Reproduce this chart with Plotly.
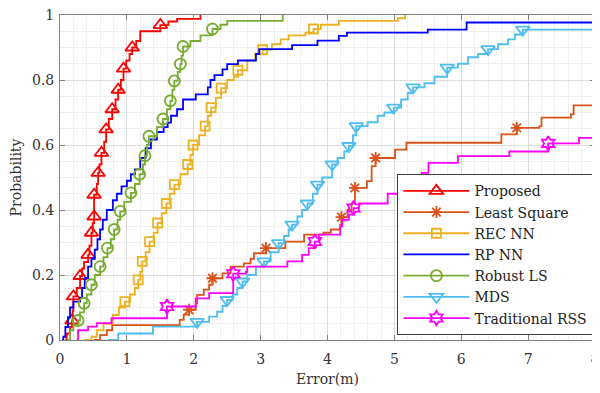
import plotly.graph_objects as go

# ---------------- data ----------------
series_names = ["Proposed", "Least Square", "REC NN", "RP NN", "Robust LS", "MDS", "Traditional RSS"]

proposed_x = [0.08, 0.1, 0.15, 0.18, 0.19, 0.2, 0.2, 0.25, 0.30, 0.33, 0.36, 0.42, 0.44, 0.47, 0.49, 0.51, 0.51, 0.51,
              0.55, 0.57, 0.59, 0.62, 0.66, 0.69, 0.73, 0.78, 0.83, 0.87, 0.91, 0.95, 0.99, 1.04, 1.08, 1.14, 1.2,
              1.5, 1.62, 1.75, 2.1]
proposed_y = [0.0, 0.02, 0.04, 0.06, 0.09, 0.11, 0.134, 0.16, 0.197, 0.22, 0.24, 0.262, 0.29, 0.33, 0.36, 0.38, 0.41,
              0.447, 0.48, 0.514, 0.54, 0.576, 0.61, 0.648, 0.68, 0.71, 0.74, 0.77, 0.80, 0.835, 0.86, 0.88, 0.90,
              0.92, 0.95, 0.969, 0.98, 0.988, 1.0]
proposed_mk = [3, 6, 8, 11, 13, 15, 17, 19, 21, 23, 25, 27, 29, 32, 35]

ls_x = [0.5, 0.6, 0.7, 0.78, 1.79, 1.85, 1.93, 2.03, 2.05, 2.15, 2.23, 2.28, 2.43, 2.55, 2.75, 2.85, 2.9, 3.08, 3.37,
        3.65, 3.94, 4.05, 4.19, 4.21, 4.3, 4.36, 4.41, 4.59, 4.66, 4.72, 5.01, 5.18, 6.6, 6.83, 7.17, 7.2, 7.64,
        7.68, 8.0]
ls_y = [0.0, 0.015, 0.03, 0.046, 0.062, 0.078, 0.093, 0.113, 0.139, 0.155, 0.17, 0.19, 0.205, 0.226, 0.236, 0.25,
        0.267, 0.283, 0.303, 0.324, 0.33, 0.34, 0.355, 0.378, 0.40, 0.42, 0.468, 0.489, 0.535, 0.56, 0.586, 0.607,
        0.633, 0.653, 0.658, 0.684, 0.694, 0.722, 0.722]
ls_mk = [6, 11, 17, 23, 26, 29, 33]

rec_x = [0.35, 0.47, 0.55, 0.65, 0.79, 0.88, 0.97, 1.05, 1.12, 1.17, 1.2, 1.23, 1.28, 1.34, 1.4, 1.46, 1.52, 1.59,
         1.64, 1.71, 1.8, 1.91, 1.95, 1.99, 2.08, 2.17, 2.21, 2.26, 2.33, 2.41, 2.5, 2.6, 2.66, 2.8, 2.92, 3.03,
         3.17, 3.3, 3.42, 3.67, 3.79, 3.9, 4.17, 5.05, 5.16]
rec_y = [0.0, 0.01, 0.03, 0.05, 0.077, 0.1, 0.118, 0.14, 0.16, 0.185, 0.21, 0.242, 0.27, 0.303, 0.33, 0.36, 0.39,
         0.42, 0.45, 0.478, 0.51, 0.54, 0.57, 0.6, 0.63, 0.658, 0.69, 0.715, 0.745, 0.775, 0.80, 0.81, 0.83, 0.86,
         0.88, 0.893, 0.91, 0.925, 0.937, 0.946, 0.957, 0.97, 0.982, 0.99, 1.0]
rec_mk = [6, 9, 11, 13, 15, 17, 19, 21, 23, 25, 27, 29, 32, 35, 40]

rp_x = [0.03, 0.05, 0.08, 0.12, 0.15, 0.2, 0.3, 0.33, 0.37, 0.42, 0.47, 0.52, 0.56, 0.6, 0.64, 0.7, 0.79, 0.85,
        0.92, 1.0, 1.06, 1.12, 1.2, 1.28, 1.36, 1.45, 1.55, 1.61, 1.66, 1.75, 1.84, 2.03, 2.21, 2.25, 2.31, 2.43,
        2.5, 2.66, 2.93, 2.98, 3.47, 3.85, 4.17, 4.29, 5.5, 6.08, 8.0]
rp_y = [0.0, 0.01, 0.04, 0.07, 0.1, 0.118, 0.13, 0.16, 0.19, 0.226, 0.25, 0.278, 0.31, 0.34, 0.37, 0.4, 0.43, 0.45,
        0.473, 0.49, 0.51, 0.525, 0.56, 0.59, 0.617, 0.64, 0.655, 0.669, 0.69, 0.71, 0.74, 0.756, 0.777, 0.80,
        0.815, 0.833, 0.849, 0.86, 0.88, 0.895, 0.907, 0.921, 0.936, 0.946, 0.955, 0.977, 0.977]
rp_mk = []

rls_x = [0.1, 0.15, 0.2, 0.27, 0.3, 0.36, 0.4, 0.47, 0.52, 0.6, 0.65, 0.71, 0.76, 0.81, 0.86, 0.9, 0.96, 1.06, 1.12,
         1.19, 1.24, 1.27, 1.3, 1.33, 1.45, 1.54, 1.6, 1.65, 1.68, 1.71, 1.76, 1.8, 1.82, 1.84, 1.95, 2.1, 2.28,
         2.4, 2.5, 3.33]
rls_y = [0.0, 0.03, 0.045, 0.06, 0.085, 0.113, 0.14, 0.17, 0.2, 0.226, 0.255, 0.283, 0.31, 0.34, 0.37, 0.396, 0.425,
         0.453, 0.48, 0.51, 0.54, 0.567, 0.6, 0.627, 0.655, 0.68, 0.71, 0.736, 0.77, 0.797, 0.825, 0.849, 0.875,
         0.903, 0.92, 0.937, 0.957, 0.97, 0.982, 1.0]
rls_mk = [3, 5, 7, 9, 11, 13, 15, 17, 19, 21, 23, 25, 27, 29, 31, 33, 36]

mds_x = [0.72, 0.87, 1.39, 2.05, 2.23, 2.35, 2.43, 2.5, 2.58, 2.65, 2.73, 2.8, 2.93, 3.05, 3.15, 3.27, 3.35, 3.42,
         3.47, 3.55, 3.62, 3.7, 3.78, 3.85, 3.92, 4.07, 4.15, 4.25, 4.32, 4.38, 4.43, 4.6, 4.75, 4.85, 4.99, 5.1,
         5.2, 5.28, 5.45, 5.6, 5.79, 5.95, 6.1, 6.25, 6.4, 6.55, 6.7, 6.8, 6.92, 8.0]
mds_y = [0.0, 0.02, 0.041, 0.056, 0.072, 0.087, 0.105, 0.123, 0.14, 0.16, 0.18, 0.2, 0.226, 0.242, 0.27, 0.298,
         0.32, 0.34, 0.355, 0.38, 0.40, 0.42, 0.45, 0.478, 0.5, 0.54, 0.56, 0.58, 0.597, 0.63, 0.658, 0.67, 0.69,
         0.70, 0.715, 0.74, 0.76, 0.777, 0.79, 0.81, 0.838, 0.85, 0.87, 0.88, 0.895, 0.91, 0.925, 0.94, 0.955,
         0.955]
mds_mk = [3, 7, 10, 13, 15, 18, 21, 23, 25, 28, 30, 34, 37, 40, 44, 48]

rss_x = [0.25, 0.27, 0.42, 0.55, 0.77, 1.6, 2.03, 2.23, 2.59, 2.78, 2.8, 3.4, 3.62, 3.72, 3.81, 3.87, 4.19, 4.22,
         4.32, 4.39, 4.47, 4.9, 5.2, 5.41, 5.51, 5.95, 6.72, 7.3, 7.76, 8.0]
rss_y = [0.0, 0.03, 0.041, 0.052, 0.067, 0.103, 0.128, 0.144, 0.204, 0.21, 0.226, 0.242, 0.262, 0.283, 0.303,
         0.324, 0.35, 0.37, 0.386, 0.406, 0.42, 0.45, 0.48, 0.514, 0.545, 0.566, 0.58, 0.605, 0.622, 0.622]
rss_mk = [5, 8, 14, 19, 27]

x_ticks = [0, 1, 2, 3, 4, 5, 6, 7, 8]
y_ticks = [0, 0.2, 0.4, 0.6, 0.8, 1]
y_tick_labels = ["0", "0.2", "0.4", "0.6", "0.8", "1"]

# ---------------- styling ----------------
colors = ["#FF0000", "#D95319", "#EDB120", "#0000FF", "#77AC30", "#4DBEEE", "#FF00FF"]
symbols = ["triangle-up-open", "asterisk-open", "square-open", None, "circle-open", "triangle-down-open",
           "hexagram-open"]
msizes = [12, 10, 9, 0, 11, 12, 11]

data = [
    (proposed_x, proposed_y, proposed_mk),
    (ls_x, ls_y, ls_mk),
    (rec_x, rec_y, rec_mk),
    (rp_x, rp_y, rp_mk),
    (rls_x, rls_y, rls_mk),
    (mds_x, mds_y, mds_mk),
    (rss_x, rss_y, rss_mk),
]

FONT = "DejaVu Serif"
fig = go.Figure()
for name, (xs, ys, mk), c, sym, ms in zip(series_names, data, colors, symbols, msizes):
    fig.add_trace(go.Scatter(x=xs, y=ys, mode="lines", line=dict(color=c, width=1.8, shape="hv"),
                             showlegend=False, hoverinfo="skip"))
    if sym:
        fig.add_trace(go.Scatter(x=[xs[i] for i in mk], y=[ys[i] for i in mk], mode="markers",
                                 marker=dict(symbol=sym, size=ms, color=c, line=dict(color=c, width=1.8)),
                                 showlegend=False, hoverinfo="skip"))
        fig.add_trace(go.Scatter(x=[None], y=[None], mode="lines+markers", name=name,
                                 line=dict(color=c, width=1.8),
                                 marker=dict(symbol=sym, size=ms, color=c, line=dict(color=c, width=1.8))))
    else:
        fig.add_trace(go.Scatter(x=[None], y=[None], mode="lines", name=name, line=dict(color=c, width=1.8)))

axis_common = dict(
    showline=True, linecolor="#808080", linewidth=1, mirror="ticks",
    ticks="inside", ticklen=5, tickcolor="#808080",
    showgrid=True, gridcolor="#dcdcdc", gridwidth=1, zeroline=False, automargin=False,
    ticklabeloverflow="allow",
    tickfont=dict(family=FONT, size=14, color="#333333"),
)

fig.update_xaxes(range=[0, 8], tickvals=x_ticks, ticktext=[str(v) for v in x_ticks],
                 minor=dict(dtick=0.2, showgrid=True, gridcolor="#efefef", gridwidth=1),
                 ticklabelstandoff=6,
                 title=dict(text="Error(m)", font=dict(family=FONT, size=14, color="#333333"), standoff=8),
                 **axis_common)
fig.update_yaxes(range=[0, 1], tickvals=y_ticks, ticktext=y_tick_labels,
                 minor=dict(dtick=0.05, showgrid=True, gridcolor="#efefef", gridwidth=1),
                 ticklabelstandoff=2,
                 title=dict(text="Probability", font=dict(family=FONT, size=14, color="#333333"), standoff=10),
                 **axis_common)

# the page body keeps an 8 px browser margin, so the figure is made 8 px smaller and margins shifted
fig.update_layout(
    width=592, height=385,
    margin=dict(l=52, r=5, t=7, b=53),
    plot_bgcolor="white", paper_bgcolor="white",
    font=dict(family=FONT, size=14, color="#222222"),
    legend=dict(x=0.997, y=0.51, xanchor="right", yanchor="top",
                bgcolor="white", bordercolor="#404040", borderwidth=1,
                font=dict(family=FONT, size=14, color="#222222"),
                tracegroupgap=0, itemwidth=66),
)

fig.write_html("out.html")
